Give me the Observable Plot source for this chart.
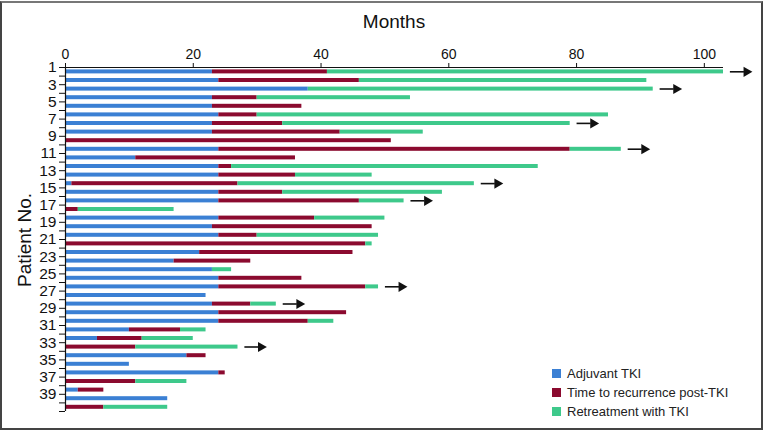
<!DOCTYPE html>
<html>
<head>
<meta charset="utf-8">
<script src="https://cdn.jsdelivr.net/npm/d3@7"></script>
<script src="https://cdn.jsdelivr.net/npm/@observablehq/plot@0.6"></script>
<style>
  body { margin: 0; background: #fff; }
  #wrap { position: relative; width: 764px; height: 430px; font-family: "Liberation Sans", Arial, sans-serif; overflow: hidden; }
  #frame { position: absolute; left: 0; top: 1px; width: 763px; height: 429px; box-sizing: border-box; border: 2px solid #444; border-top-color: #777; pointer-events: none; }
  #title { position: absolute; left: 0; width: 788px; top: 11px; text-align: center; font-size: 19px; color: #111; }
  #ylab { position: absolute; left: 25px; top: 240px; transform: translate(-50%, -50%) rotate(-90deg); font-size: 19px; white-space: nowrap; color: #111; }
  #legend { position: absolute; left: 552px; top: 364px; font-size: 13px; color: #222; }
  .item { display: flex; align-items: center; height: 19px; }
  .sw { width: 9px; height: 9px; margin-right: 6px; }
</style>
</head>
<body>
<div id="wrap">
  <div id="chart"></div>
  <div id="title">Months</div>
  <div id="ylab">Patient No.</div>
  <div id="legend"></div>
  <div id="frame"></div>
</div>
<script>
const patients = d3.range(1, 41);
const adjuvant   = [23,24,38,23,23,24,23,23,0,24,11,24,24,1,24,24,0,24,23,24,0,21,17,23,24,24,22,23,24,24,10,5,0,19,10,24,0,2,16,0];
const recurrence = [18,22,0,7,14,6,11,20,51,55,25,2,12,26,10,22,2,15,25,6,47,24,12,0,13,23,0,6,20,14,8,7,11,3,0,1,11,4,0,6];
const retreatment= [62,45,54,24,0,55,45,13,0,8,0,48,12,37,25,7,15,11,0,19,1,0,0,3,0,2,0,4,0,4,4,8,16,0,0,0,8,0,0,10];
const ongoing = [1,3,7,10,14,16,26,28,33];
const phases = ["Adjuvant TKI", "Time to recurrence post-TKI", "Retreatment with TKI"];
const colors = ["#3b80d4", "#8b0a2f", "#3ec98b"];
const xTicks = [0, 20, 40, 60, 80, 100];

const segs = [];
const totals = [];
patients.forEach((p, i) => {
  const vals = [adjuvant[i], recurrence[i], retreatment[i]];
  let s = 0;
  vals.forEach((v, k) => {
    if (v > 0) segs.push({patient: p, phase: phases[k], start: s, end: s + v});
    s += v;
  });
  totals.push({patient: p, total: s});
});
const arrows = totals.filter(d => ongoing.includes(d.patient));

const chart = Plot.plot({
  width: 764,
  height: 430,
  marginLeft: 65,
  marginRight: 41,
  marginTop: 67,
  marginBottom: 19,
  style: {fontFamily: "'Liberation Sans', Arial, sans-serif", color: "#111", background: "transparent"},
  x: {domain: [0, 103], axis: null},
  y: {domain: [0, 40], reverse: true, axis: null},
  color: {domain: phases, range: colors},
  marks: [
    Plot.rect(segs, {x1: "start", x2: "end", y1: d => d.patient - 1, y2: "patient", fill: "phase", insetTop: 2.4, insetBottom: 2.2}),
    Plot.link(arrows, {x1: d => d.total + 1, x2: d => d.total + 3.2, y1: d => d.patient - 0.5, y2: d => d.patient - 0.5, stroke: "#111", strokeWidth: 1.6}),
    Plot.dot(arrows, {x: d => d.total + 3.6, y: d => d.patient - 0.5, symbol: "triangle", rotate: 90, r: 3.8, fill: "#111", stroke: "none"}),
    Plot.ruleY([0], {stroke: "#111", strokeWidth: 1.2}),
    Plot.ruleX([0], {stroke: "#111", strokeWidth: 1.2}),
    Plot.axisX({anchor: "top", ticks: xTicks, tickSize: 5, tickPadding: 4, fontSize: 14, label: null, stroke: "#111"}),
    Plot.axisY({anchor: "left", ticks: d3.range(0, 41), tickSize: 6, tickPadding: 3, fontSize: 15.5,
      tickFormat: d => (d % 2 === 0 && d < 40) ? String(d + 1) : "", label: null, stroke: "#111"})
  ]
});
document.getElementById("chart").appendChild(chart);

const legend = document.getElementById("legend");
phases.forEach((p, i) => {
  const it = document.createElement("div");
  it.className = "item";
  const sw = document.createElement("div");
  sw.className = "sw";
  sw.style.background = colors[i];
  const t = document.createElement("span");
  t.textContent = p;
  it.appendChild(sw);
  it.appendChild(t);
  legend.appendChild(it);
});
</script>
</body>
</html>
